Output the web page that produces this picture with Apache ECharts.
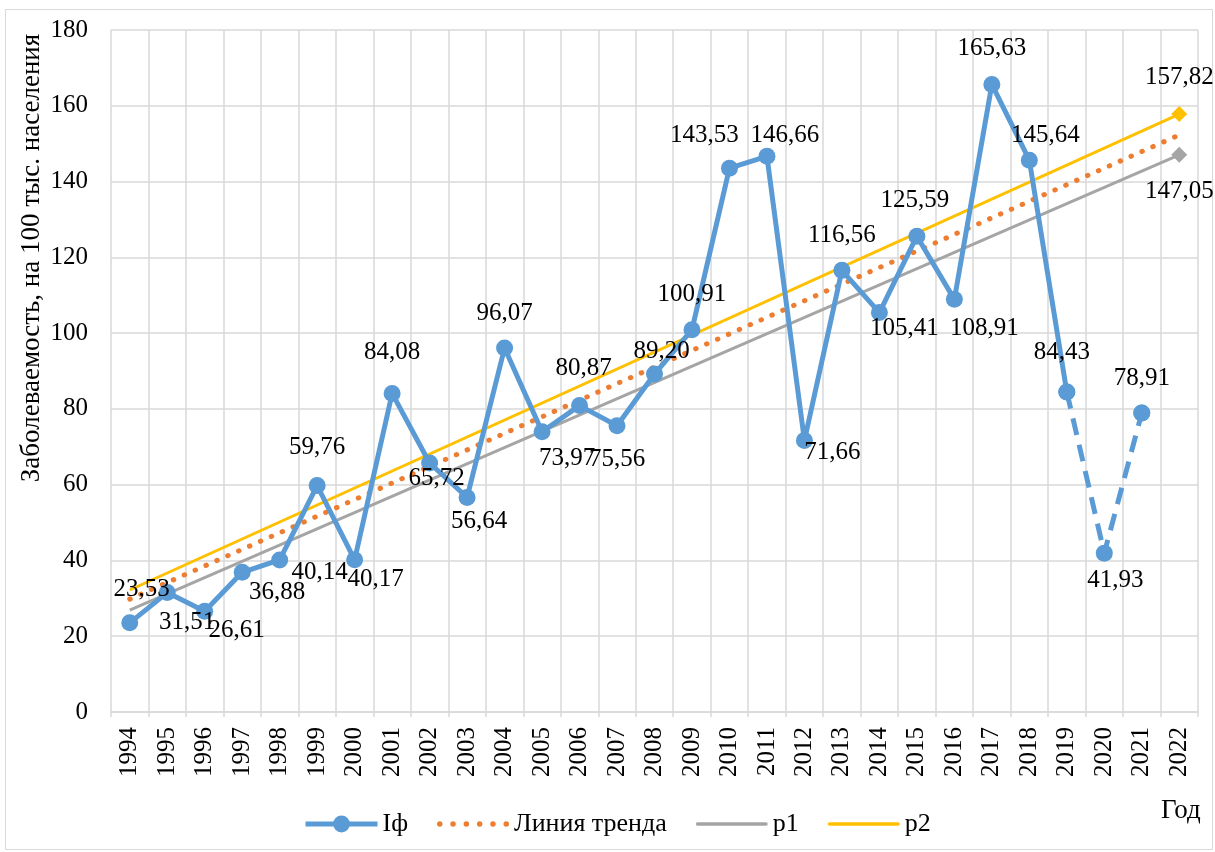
<!DOCTYPE html>
<html>
<head>
<meta charset="utf-8">
<script src="https://cdn.jsdelivr.net/npm/echarts@6/dist/echarts.min.js"></script>
<style>
  html, body { margin: 0; padding: 0; background: #fff; }
  #chart { width: 1215px; height: 852px; }
</style>
</head>
<body>
<div id="chart"></div>
<script>
// данные
const years = ['1994', '1995', '1996', '1997', '1998', '1999', '2000', '2001', '2002', '2003',
  '2004', '2005', '2006', '2007', '2008', '2009', '2010', '2011', '2012', '2013',
  '2014', '2015', '2016', '2017', '2018', '2019', '2020', '2021', '2022']
const incidence = [23.53, 31.51, 26.61, 36.88, 40.14, 59.76, 40.17, 84.08, 65.72, 56.64,
  96.07, 73.97, 80.87, 75.56, 89.20, 100.91, 143.53, 146.66, 71.66, 116.56,
  105.41, 125.59, 108.91, 165.63, 145.64, 84.43, 41.93, 78.91, null]
// пунктирный участок (2019-2021)
const dashedYears = ['2019', '2020', '2021']
const trendLine = [['1994', 29.8], ['2022', 152.3]]
const p1 = [['1994', 26.9], ['2022', 147.05]]
const p2 = [['1994', 32.2], ['2022', 157.82]]
const yTicks = { min: 0, max: 180, interval: 20 }

// сдвиги подписей относительно точек
const labelOffsets = [[12, -33], [20, 30], [32, 19], [35, 20], [40, 13], [0, -38], [21, 20], [0, -41],
  [7, 15], [12, 24], [0, -35], [25, 27], [4, -37], [0, 34], [7, -23], [0, -35], [-25, -33], [18, -21],
  [28, 12], [0, -35], [25, 16], [-2, -36], [30, 29], [0, -36], [16, -25], [-5, -40], [11, 27], [0, -35]]

const fmt = (v) => v.toFixed(2).replace('.', ',')
const serif = 'Liberation Serif'
const labelStyle = { show: true, position: 'inside', fontFamily: serif, fontSize: 25, color: '#000' }

const dashIdx = dashedYears.map((y) => years.indexOf(y))
const solidData = incidence.map((v, i) => {
  if (v == null) return null
  if (i === dashIdx[1]) return null
  return { value: v, label: { ...labelStyle, offset: labelOffsets[i] } }
})
const dashedData = years.map((y, i) => {
  if (!dashedYears.includes(y)) return null
  if (i === dashIdx[1]) return { value: incidence[i], label: { ...labelStyle, offset: labelOffsets[i] } }
  return incidence[i]
})

const endMarker = (arr, color, offset) =>
  arr.map((d, i) =>
    i === arr.length - 1
      ? {
          value: d,
          symbol: 'diamond',
          symbolSize: 16,
          itemStyle: { color },
          label: { ...labelStyle, offset, formatter: (p) => fmt(p.value[1]) },
        }
      : { value: d, symbol: 'none' },
  )

// значки легенды: линия и точки
const lineIcon = 'path://M1.7,0H70.3A1.7,1.7 0 0,1 70.3,3.4H1.7A1.7,1.7 0 0,1 1.7,0Z'
let dotsIcon = 'path://'
for (let k = 0; k < 6; k++) {
  const cx = 2.6 + k * 12.6
  dotsIcon += `M${(cx - 2.6).toFixed(1)},2.6a2.6,2.6 0 1,0 5.2,0a2.6,2.6 0 1,0 -5.2,0Z`
}

const chart = echarts.init(document.getElementById('chart'), null, { renderer: 'canvas' })

const option = {
  animation: false,
  backgroundColor: '#fff',
  textStyle: { fontFamily: serif },
  grid: { left: 111, right: 17, top: 30, bottom: 140 },
  legend: {
    top: 806,
    left: 298,
    itemWidth: 72,
    itemHeight: 21,
    itemGap: 29,
    lineStyle: { width: 5 },
    data: [
      { name: 'Iф' },
      { name: 'Линия тренда', icon: dotsIcon },
      { name: 'p1', icon: lineIcon },
      { name: 'p2', icon: lineIcon },
    ],
    textStyle: { fontFamily: serif, fontSize: 26, color: '#000' },
  },
  xAxis: {
    type: 'category',
    data: years,
    boundaryGap: true,
    axisLine: { show: true, lineStyle: { color: '#d9d9d9', width: 1.5 } },
    axisTick: { show: true, length: 5, lineStyle: { color: '#d9d9d9', width: 1.5 } },
    splitLine: { show: true, lineStyle: { color: '#d9d9d9', width: 1.5 } },
    axisLabel: { rotate: 90, interval: 0, margin: 15, fontFamily: serif, fontSize: 25, color: '#000' },
  },
  yAxis: {
    type: 'value',
    min: yTicks.min,
    max: yTicks.max,
    interval: yTicks.interval,
    axisLine: { show: false },
    axisTick: { show: false },
    splitLine: { show: true, lineStyle: { color: '#d9d9d9', width: 1.5 } },
    axisLabel: { fontFamily: serif, fontSize: 25, color: '#000', margin: 23 },
  },
  series: [
    {
      name: 'Линия тренда',
      type: 'line',
      data: trendLine,
      symbol: 'none',
      z: 2,
      lineStyle: { color: '#ed7d31', width: 5, type: [0.5, 11.4], cap: 'round' },
      itemStyle: { color: '#ed7d31' },
    },
    {
      name: 'p1',
      type: 'line',
      data: endMarker(p1, '#a5a5a5', [0, 37]),
      symbol: 'none',
      z: 2,
      lineStyle: { color: '#a5a5a5', width: 3 },
      itemStyle: { color: '#a5a5a5' },
    },
    {
      name: 'p2',
      type: 'line',
      data: endMarker(p2, '#ffc000', [0, -37]),
      symbol: 'none',
      z: 2,
      lineStyle: { color: '#ffc000', width: 3 },
      itemStyle: { color: '#ffc000' },
    },
    {
      name: 'Iф',
      type: 'line',
      data: solidData,
      connectNulls: false,
      symbol: 'circle',
      symbolSize: 17,
      showSymbol: true,
      z: 3,
      lineStyle: { color: '#5b9bd5', width: 5 },
      itemStyle: { color: '#5b9bd5' },
      label: { formatter: (p) => fmt(p.value) },
    },
    {
      name: 'Iф пунктир',
      type: 'line',
      data: dashedData,
      symbol: 'circle',
      symbolSize: 17,
      z: 3,
      lineStyle: { color: '#5b9bd5', width: 5, type: [17, 10] },
      itemStyle: { color: '#5b9bd5' },
      label: { formatter: (p) => fmt(p.value) },
    },
  ],
  graphic: [
    {
      type: 'rect',
      shape: { x: 5.5, y: 9.5, width: 1207, height: 840 },
      style: { fill: 'none', stroke: '#d9d9d9', lineWidth: 1 },
      silent: true,
    },
    {
      type: 'text',
      x: 32,
      y: 258,
      rotation: Math.PI / 2,
      style: {
        text: 'Заболеваемость, на 100 тыс. населения',
        fontFamily: serif,
        fontSize: 27,
        fill: '#000',
        align: 'center',
        verticalAlign: 'middle',
      },
    },
    {
      type: 'text',
      left: 1161,
      top: 797,
      style: { text: 'Год', fontFamily: serif, fontSize: 27, fill: '#000' },
    },
  ],
}

chart.setOption(option)
</script>
</body>
</html>
